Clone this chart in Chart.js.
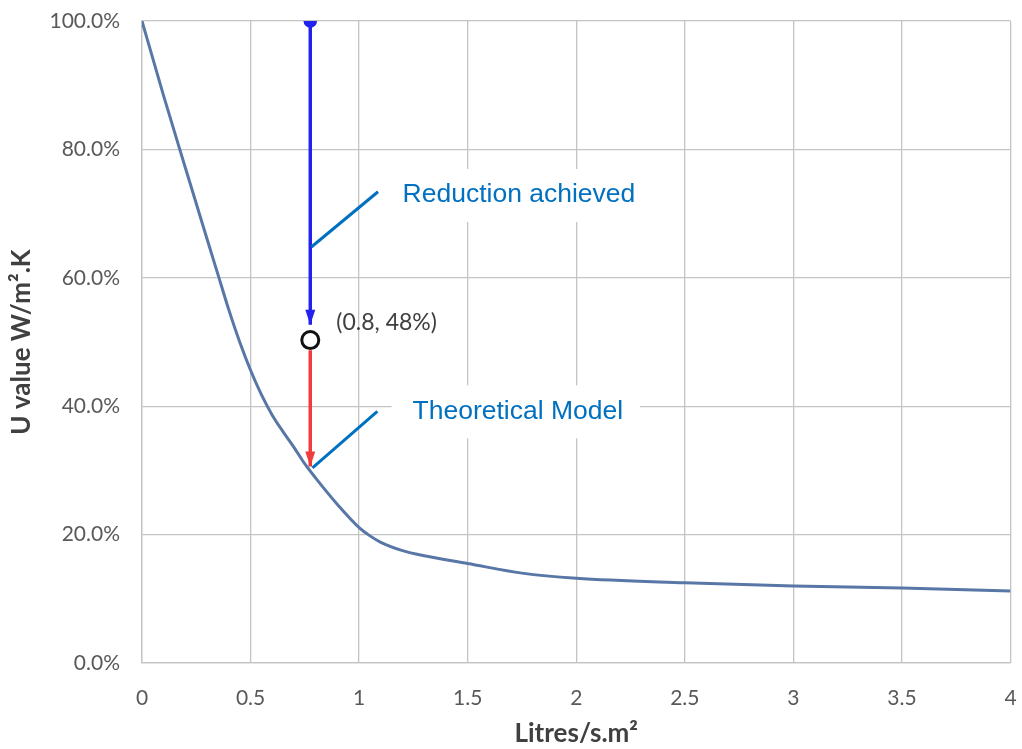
<!DOCTYPE html>
<html>
<head>
<meta charset="utf-8">
<script src="https://cdn.jsdelivr.net/npm/chart.js@4"></script>
<style>
  html, body { margin: 0; padding: 0; background: #fff; }
  #wrap { width: 1022px; height: 749px; position: relative; }
</style>
</head>
<body>
<div id="wrap"><canvas id="u-chart"></canvas></div>
<script>
'use strict';

/* ── Data ──────────────────────────────────────────────────── */
const flowRates = [0, 0.1, 0.2, 0.3, 0.35, 0.4, 0.45, 0.5, 0.55, 0.6, 0.65, 0.7, 0.75, 0.8, 0.9, 1.0, 1.05, 1.1, 1.2, 1.3, 1.5, 1.75, 2.0, 2.5, 3.0, 3.5, 4.0];
const uValues   = [100, 88.3, 77.1, 66.0, 60.5, 55.0, 50.0, 45.6, 41.8, 38.6, 36.0, 33.6, 31.0, 28.8, 24.7, 21.1, 19.8, 18.8, 17.5, 16.7, 15.5, 14.0, 13.2, 12.5, 12.0, 11.7, 11.2];

const measuredFlow   = 0.775;
const measuredU      = 50.3;
const reductionFrom  = 100;
const reductionTo    = 52.7;
const theoryFrom     = 48.7;
const theoryTo       = 30.6;
const pointLabel     = '(0.8, 48%)';
const calloutLabels  = ['Reduction achieved', 'Theoretical Model'];

/* ── Helpers ───────────────────────────────────────────────── */
const FONT = 'Lato, "Open Sans", sans-serif';
const LABEL_FONT = '26.5px "Liberation Sans", Arial, sans-serif';
const curvePts = flowRates.map((x, i) => ({ x, y: uValues[i] }));

// Arrowheads at the last point of the arrow datasets
const arrowPlugin = {
  id: 'arrowHeads',
  afterDatasetsDraw(ch) {
    const ctx = ch.ctx;
    [1, 2].forEach(di => {
      const meta = ch.getDatasetMeta(di);
      const a = meta.data[0], b = meta.data[1];
      const col = ch.data.datasets[di].borderColor;
      const ang = Math.atan2(b.y - a.y, b.x - a.x);
      const len = 15, half = 5;
      ctx.save();
      ctx.translate(b.x, b.y);
      ctx.rotate(ang);
      ctx.beginPath();
      ctx.moveTo(0, 0);
      ctx.lineTo(-len, -half);
      ctx.lineTo(-len, half);
      ctx.closePath();
      ctx.fillStyle = col;
      ctx.fill();
      ctx.restore();
    });
  }
};

// Callout lines + label boxes, placed in data units
const CALLOUTS = [
  { text: calloutLabels[0], from: [0.78, 64.8], to: [1.087, 73.4], at: [1.2, 72.9] },
  { text: calloutLabels[1], from: [0.785, 30.4], to: [1.084, 39.2], at: [1.246, 39.2] },
];

const calloutPlugin = {
  id: 'callouts',
  beforeDatasetsDraw(ch) {
    // white boxes behind the callout text (hide gridlines)
    const ctx = ch.ctx, xs = ch.scales.x, ys = ch.scales.y;
    ctx.save();
    ctx.font = LABEL_FONT;
    CALLOUTS.forEach(c => {
      const tx = xs.getPixelForValue(c.at[0]);
      const ty = ys.getPixelForValue(c.at[1]);
      const w = ctx.measureText(c.text).width;
      ctx.fillStyle = '#ffffff';
      ctx.fillRect(tx - 21, ty - 26, w + 38, 53);
    });
    ctx.restore();
  },
  afterDatasetsDraw(ch) {
    const ctx = ch.ctx, xs = ch.scales.x, ys = ch.scales.y;
    ctx.save();
    CALLOUTS.forEach(c => {
      ctx.beginPath();
      ctx.strokeStyle = '#0070c0';
      ctx.lineWidth = 3;
      ctx.moveTo(xs.getPixelForValue(c.from[0]), ys.getPixelForValue(c.from[1]));
      ctx.lineTo(xs.getPixelForValue(c.to[0]), ys.getPixelForValue(c.to[1]));
      ctx.stroke();

      ctx.font = LABEL_FONT;
      ctx.fillStyle = '#0070c0';
      ctx.textAlign = 'left';
      ctx.textBaseline = 'middle';
      ctx.fillText(c.text, xs.getPixelForValue(c.at[0]), ys.getPixelForValue(c.at[1]));
    });

    // point label next to the measured marker
    const pt = ch.getDatasetMeta(3).data[0];
    ctx.font = '23px ' + FONT;
    ctx.fillStyle = '#404040';
    ctx.textAlign = 'left';
    ctx.textBaseline = 'middle';
    ctx.fillText(pointLabel, pt.x + 26, pt.y - 17);
    ctx.restore();
  }
};

/* ── Chart ─────────────────────────────────────────────────── */
const ctx = document.getElementById('u-chart').getContext('2d');
new Chart(ctx, {
  type: 'scatter',
  data: {
    datasets: [
      {
        label: 'U value',
        data: curvePts,
        showLine: true,
        borderColor: '#5877a6',
        borderWidth: 3,
        pointRadius: 0,
        cubicInterpolationMode: 'monotone',
        order: 3,
      },
      {
        label: 'Reduction',
        data: [{ x: measuredFlow, y: reductionFrom }, { x: measuredFlow, y: reductionTo }],
        showLine: true,
        borderColor: '#2222ee',
        backgroundColor: '#2222ee',
        borderWidth: 3.5,
        pointRadius: [5, 0],
        order: 2,
      },
      {
        label: 'Theory',
        data: [{ x: measuredFlow, y: theoryFrom }, { x: measuredFlow, y: theoryTo }],
        showLine: true,
        borderColor: '#f03c3c',
        backgroundColor: '#f03c3c',
        borderWidth: 3.5,
        pointRadius: 0,
        order: 2,
      },
      {
        label: 'Measured',
        data: [{ x: measuredFlow, y: measuredU }],
        borderColor: '#111111',
        backgroundColor: '#ffffff',
        borderWidth: 3,
        pointRadius: 8.5,
        order: 1,
      },
    ]
  },
  plugins: [calloutPlugin, arrowPlugin],
  options: {
    responsive: true,
    maintainAspectRatio: false,
    animation: false,
    layout: { padding: { left: 0, right: 10, top: 21, bottom: 0 } },
    plugins: {
      legend: { display: false },
      tooltip: { enabled: false },
    },
    scales: {
      x: {
        type: 'linear',
        min: 0,
        max: 4,
        ticks: {
          stepSize: 0.5,
          color: '#595959',
          padding: 23,
          font: { size: 21, family: FONT },
          callback: v => String(v),
        },
        grid: { color: '#c4c4c4', lineWidth: 1.3, drawTicks: false },
        border: { color: '#c4c4c4', width: 1.3 },
        title: {
          display: true,
          text: 'Litres/s.m²',
          color: '#404040',
          font: { size: 26, weight: 'bold', family: FONT },
          padding: { top: 0, bottom: 0 },
        },
        afterFit: s => { s.height = 86; s.paddingLeft = 0; s.paddingRight = 0; },
      },
      y: {
        min: 0,
        max: 100,
        ticks: {
          stepSize: 20,
          color: '#595959',
          padding: 22,
          font: { size: 21, family: FONT },
          callback: v => v.toFixed(1) + '%',
        },
        grid: { color: '#c4c4c4', lineWidth: 1.3, drawTicks: false },
        border: { color: '#c4c4c4', width: 1.3 },
        title: {
          display: true,
          text: 'U value W/m².K',
          color: '#404040',
          font: { size: 26, weight: 'bold', family: FONT },
          padding: { top: 6, bottom: 0 },
        },
        afterFit: s => { s.width = 142; s.paddingTop = 0; s.paddingBottom = 0; },
      },
    }
  }
});
</script>
</body>
</html>
